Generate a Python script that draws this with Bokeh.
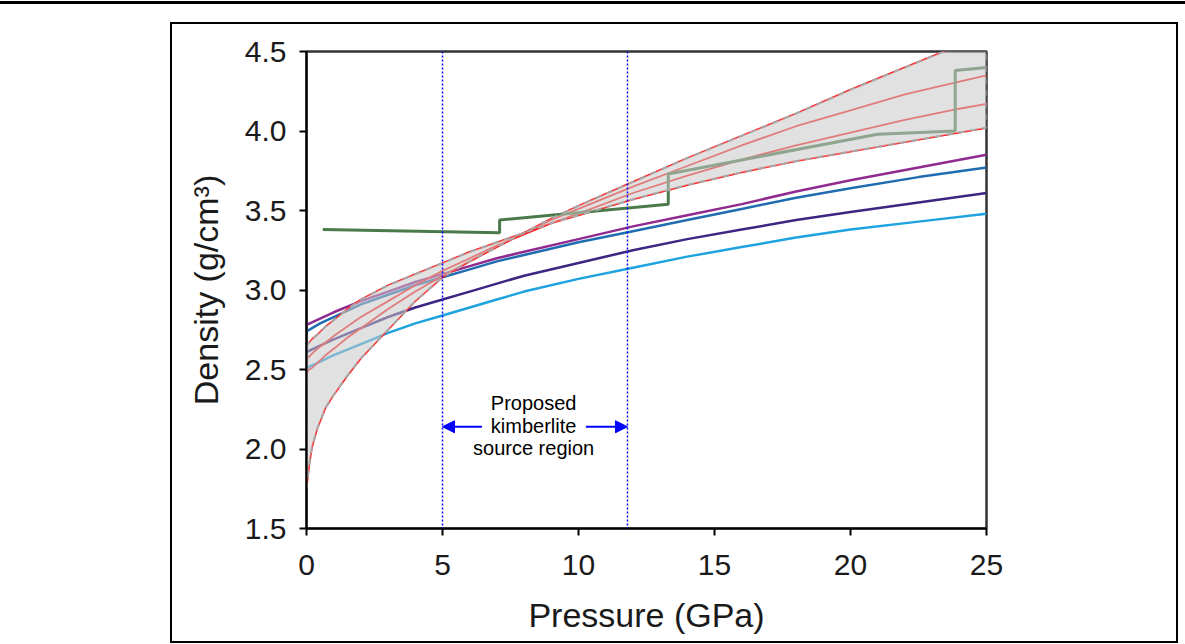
from bokeh.plotting import figure
from bokeh.models import (Range1d, Label, Arrow, NormalHead, Span, FixedTicker,
                          PrintfTickFormatter, InlineStyleSheet)
from bokeh.embed import file_html
from bokeh.resources import INLINE

# ---- data -------------------------------------------------------------
pressure_ticks = [0, 5, 10, 15, 20, 25]
density_ticks = [1.5, 2.0, 2.5, 3.0, 3.5, 4.0, 4.5]

# pressure grid (GPa) for the melt-density curves
melt_p = [0, 0.1, 0.2, 0.4, 0.7, 1, 1.5, 2, 3, 4, 5, 6, 7, 8, 9, 10,
          12, 14, 16, 18, 20, 22, 24, 25]
melt_a = [1.75, 1.90, 2.01, 2.13, 2.26, 2.34, 2.46, 2.57, 2.75, 2.93, 3.08, 3.18,
          3.27, 3.36, 3.45, 3.53, 3.68, 3.83, 3.97, 4.11, 4.26, 4.40, 4.54, 4.61]
melt_b = [2.65, 2.67, 2.69, 2.72, 2.77, 2.81, 2.88, 2.94, 3.03, 3.10, 3.17, 3.24,
          3.30, 3.36, 3.42, 3.47, 3.57, 3.66, 3.74, 3.81, 3.87, 3.93, 3.99, 4.02]
melt_c = [2.48, 2.50, 2.51, 2.54, 2.59, 2.63, 2.70, 2.76, 2.88, 2.99, 3.09, 3.18,
          3.27, 3.36, 3.44, 3.51, 3.65, 3.78, 3.91, 4.03, 4.13, 4.23, 4.31, 4.35]
melt_d = [2.57, 2.58, 2.60, 2.63, 2.67, 2.71, 2.77, 2.83, 2.93, 3.03, 3.12, 3.20,
          3.28, 3.35, 3.42, 3.48, 3.61, 3.72, 3.82, 3.91, 3.99, 4.07, 4.14, 4.17]

# mineral / rock density curves
rock_p = [0, 0.5, 1, 2, 3, 4, 5, 6, 7, 8, 10, 12, 14, 16, 18, 20, 22.5, 25]
rock_purple = [2.78, 2.82, 2.86, 2.93, 2.99, 3.05, 3.10, 3.15, 3.20, 3.24, 3.32,
               3.40, 3.47, 3.54, 3.62, 3.69, 3.77, 3.85]
rock_blue = [2.74, 2.79, 2.83, 2.91, 2.97, 3.03, 3.08, 3.13, 3.18, 3.22, 3.30,
             3.37, 3.44, 3.51, 3.58, 3.64, 3.71, 3.77]
rock_indigo = [2.61, 2.65, 2.69, 2.76, 2.83, 2.89, 2.94, 2.99, 3.04, 3.09, 3.17,
               3.25, 3.32, 3.38, 3.44, 3.49, 3.55, 3.61]
rock_cyan = [2.51, 2.55, 2.59, 2.66, 2.73, 2.79, 2.84, 2.89, 2.94, 2.99, 3.07,
             3.14, 3.21, 3.27, 3.33, 3.38, 3.43, 3.48]

# mantle density profile (stepped)
mantle_p = [0.6, 7.1, 7.1, 13.3, 13.3, 21.0, 23.85, 23.85, 25.0]
mantle_rho = [3.38, 3.36, 3.44, 3.54, 3.73, 3.98, 4.00, 4.38, 4.40]

# proposed kimberlite source region (GPa)
source_region = [5.0, 11.8]
source_text = ["Proposed", "kimberlite", "source region"]

FONT = "Liberation Sans"

# ---- figure -----------------------------------------------------------
p = figure(width=1185, height=644, output_backend="svg", toolbar_location=None,
           x_range=Range1d(0, 25), y_range=Range1d(1.5, 4.5),
           min_border_left=306, min_border_right=199,
           min_border_top=51, min_border_bottom=116,
           x_axis_label="Pressure (GPa)", y_axis_label="Density (g/cm³)")
p.background_fill_color = "white"
p.border_fill_color = "white"
p.xgrid.visible = False
p.ygrid.visible = False
p.outline_line_color = "#333333"
p.outline_line_width = 2.5

p.xaxis.ticker = FixedTicker(ticks=pressure_ticks)
p.yaxis.ticker = FixedTicker(ticks=density_ticks)
p.yaxis.formatter = PrintfTickFormatter(format="%.1f")
for ax in (p.xaxis[0], p.yaxis[0]):
    ax.axis_line_color = "black"
    ax.axis_line_width = 2
    ax.major_tick_line_color = "black"
    ax.major_tick_line_width = 2
    ax.major_tick_out = 7
    ax.major_tick_in = 0
    ax.minor_tick_line_color = None
    ax.major_label_text_font = FONT
    ax.major_label_text_font_size = "30px"
    ax.major_label_text_color = "#1a1a1a"
    ax.axis_label_text_font = FONT
    ax.axis_label_text_font_size = "34px"
    ax.axis_label_text_font_style = "normal"
    ax.axis_label_text_color = "#1a1a1a"
p.xaxis.major_label_standoff = 19
p.yaxis.major_label_standoff = 13
p.xaxis.axis_label_standoff = 18
p.yaxis.axis_label_standoff = 17

# rock curves
rock_colors = [("#902a8f", rock_purple), ("#1f6db0", rock_blue),
               ("#3c2682", rock_indigo), ("#1ea3df", rock_cyan)]
for col, ys in rock_colors:
    p.line(rock_p, ys, line_color=col, line_width=2.5)

# melt curves
for ys in (melt_a, melt_b, melt_c, melt_d):
    p.line(melt_p, ys, line_color="#ff2020", line_width=1.8)

# stepped mantle profile
p.line(mantle_p, mantle_rho, line_color="#4a7a4a", line_width=3)

# shaded envelope between the two extreme melt curves
env_x = melt_p + melt_p[::-1]
env_y = melt_a + melt_b[::-1]
p.patch(env_x, env_y, fill_color="#c8c8c8", fill_alpha=0.55, line_color=None)
p.patch(env_x, env_y, fill_color=None, line_color="#a8a8a8", line_width=2,
        line_dash="6 6")

# source-region bounds
for loc in source_region:
    p.add_layout(Span(location=loc, dimension="height", line_color="#0000ff",
                      line_width=1.5, line_dash="2 2"))

# annotation text and arrows
for i, txt in enumerate(source_text):
    p.add_layout(Label(x=8.35, y=2.29 - i * 0.143, text=txt, text_align="center",
                       text_baseline="middle", text_font=FONT,
                       text_font_size="20px", text_color="black"))
for x0, x1 in ((6.45, source_region[0]), (10.27, source_region[1])):
    p.add_layout(Arrow(end=NormalHead(size=12, fill_color="#0000ff",
                                      line_color="#0000ff"),
                       x_start=x0, y_start=2.14, x_end=x1, y_end=2.14,
                       line_color="#0000ff", line_width=2))

# page frame around the figure
p.stylesheets = [InlineStyleSheet(css="""
:host { position: relative; }
:host::before { content: ""; position: absolute; left: 0px; top: 1px;
  width: 1185px; height: 3px; background: #000; pointer-events: none; z-index: 10; }
:host::after { content: ""; position: absolute; left: 170px; top: 22px;
  width: 1008px; height: 621px; border: 2.5px solid #000; box-sizing: border-box;
  pointer-events: none; z-index: 10; }
""")]

open("out.html", "w").write(file_html(p, INLINE))
